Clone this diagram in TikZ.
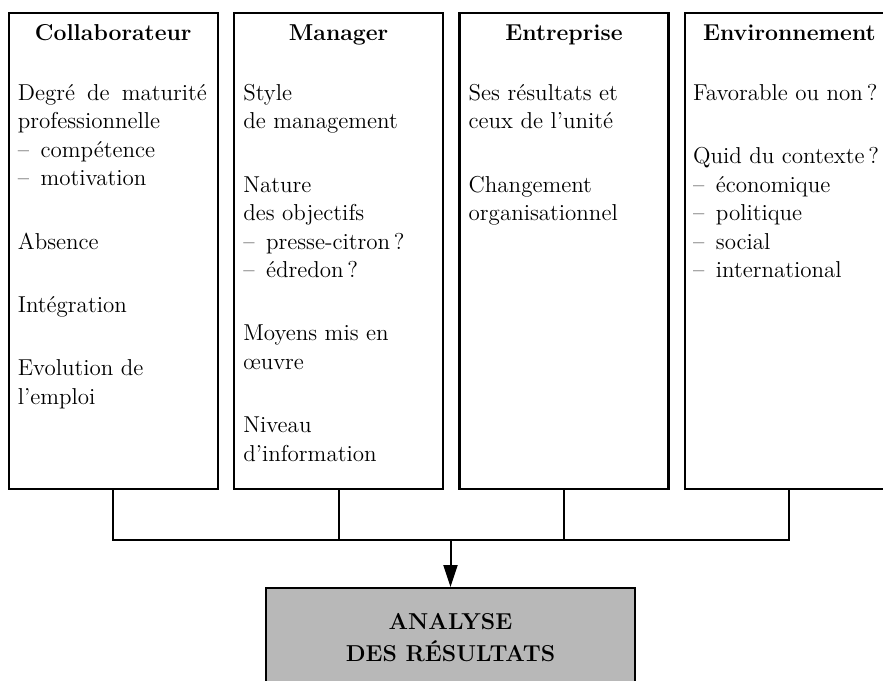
\documentclass[tikz,border=0pt]{standalone}
\usepackage{xcolor}
\usepackage{tikz}
\usetikzlibrary{positioning,arrows.meta}

\begin{document}
\begin{tikzpicture}[x=0.5pt, y=-0.5pt, node distance=7pt,
    box/.style={rectangle, draw, line width=1.2pt, minimum width=104.5pt, minimum height=238pt, inner sep=0pt},
    title/.style={inner sep=0pt, font=\fontsize{11.5}{14}\selectfont\bfseries},
    body/.style={inner sep=0pt, align=left, font=\fontsize{11.5}{14.2}\selectfont},
    result/.style={rectangle, draw, line width=1.2pt, fill=black!28, minimum width=184.5pt, minimum height=49pt, align=center, font=\fontsize{11.5}{16}\selectfont\bfseries},
    link/.style={line width=1pt}]
    \useasboundingbox (0,0) rectangle (883,680);

    \node[box, anchor=north west] (collab) at (7.5,12) {};
    \node[box, right=of collab] (manager) {};
    \node[box, right=of manager] (entreprise) {};
    \node[box, right=of entreprise] (environ) {};

    \node[title, below=6pt of collab.north] (tcollab) {Collaborateur};
    \node[title, below=6pt of manager.north] (tmanager) {Manager};
    \node[title, below=6pt of entreprise.north] (tentreprise) {Entreprise};
    \node[title, below=6pt of environ.north] (tenviron) {Environnement};

    \node[body, below right=36pt and 5pt of collab.north west] (bcollab) {\makebox[94.5pt][s]{Degré de maturité}\\professionnelle\\--\enspace compétence\\--\enspace motivation\\[17.5pt]Absence\\[17.5pt]Intégration\\[17.5pt]Evolution de\\l'emploi};
    \node[body, below right=36pt and 5pt of manager.north west] (bmanager) {Style\\de management\\[17.5pt]Nature\\des objectifs\\--\enspace presse-citron\,?\\--\enspace édredon\,?\\[17.5pt]Moyens mis en\\œuvre\\[17.5pt]Niveau\\d'information};
    \node[body, below right=36pt and 5pt of entreprise.north west] (bentreprise) {Ses résultats et\\ceux de l'unité\\[17.5pt]Changement\\organisationnel};
    \node[body, below right=36pt and 4.5pt of environ.north west] (benviron) {Favorable ou non\,?\\[17.5pt]Quid du contexte\,?\\--\enspace économique\\--\enspace politique\\--\enspace social\\--\enspace international};

    \coordinate (join) at (450.5,540);
    \node[result, below=23.5pt of join] (analyse) {ANALYSE\\DES RÉSULTATS};

    \draw[link] (collab.south) |- (join);
    \draw[link] (manager.south) |- (join);
    \draw[link] (entreprise.south) |- (join);
    \draw[link] (environ.south) |- (join);
    \draw[link, -{Triangle[length=11pt, width=7pt]}] (join) -- (analyse.north);
\end{tikzpicture}
\end{document}
